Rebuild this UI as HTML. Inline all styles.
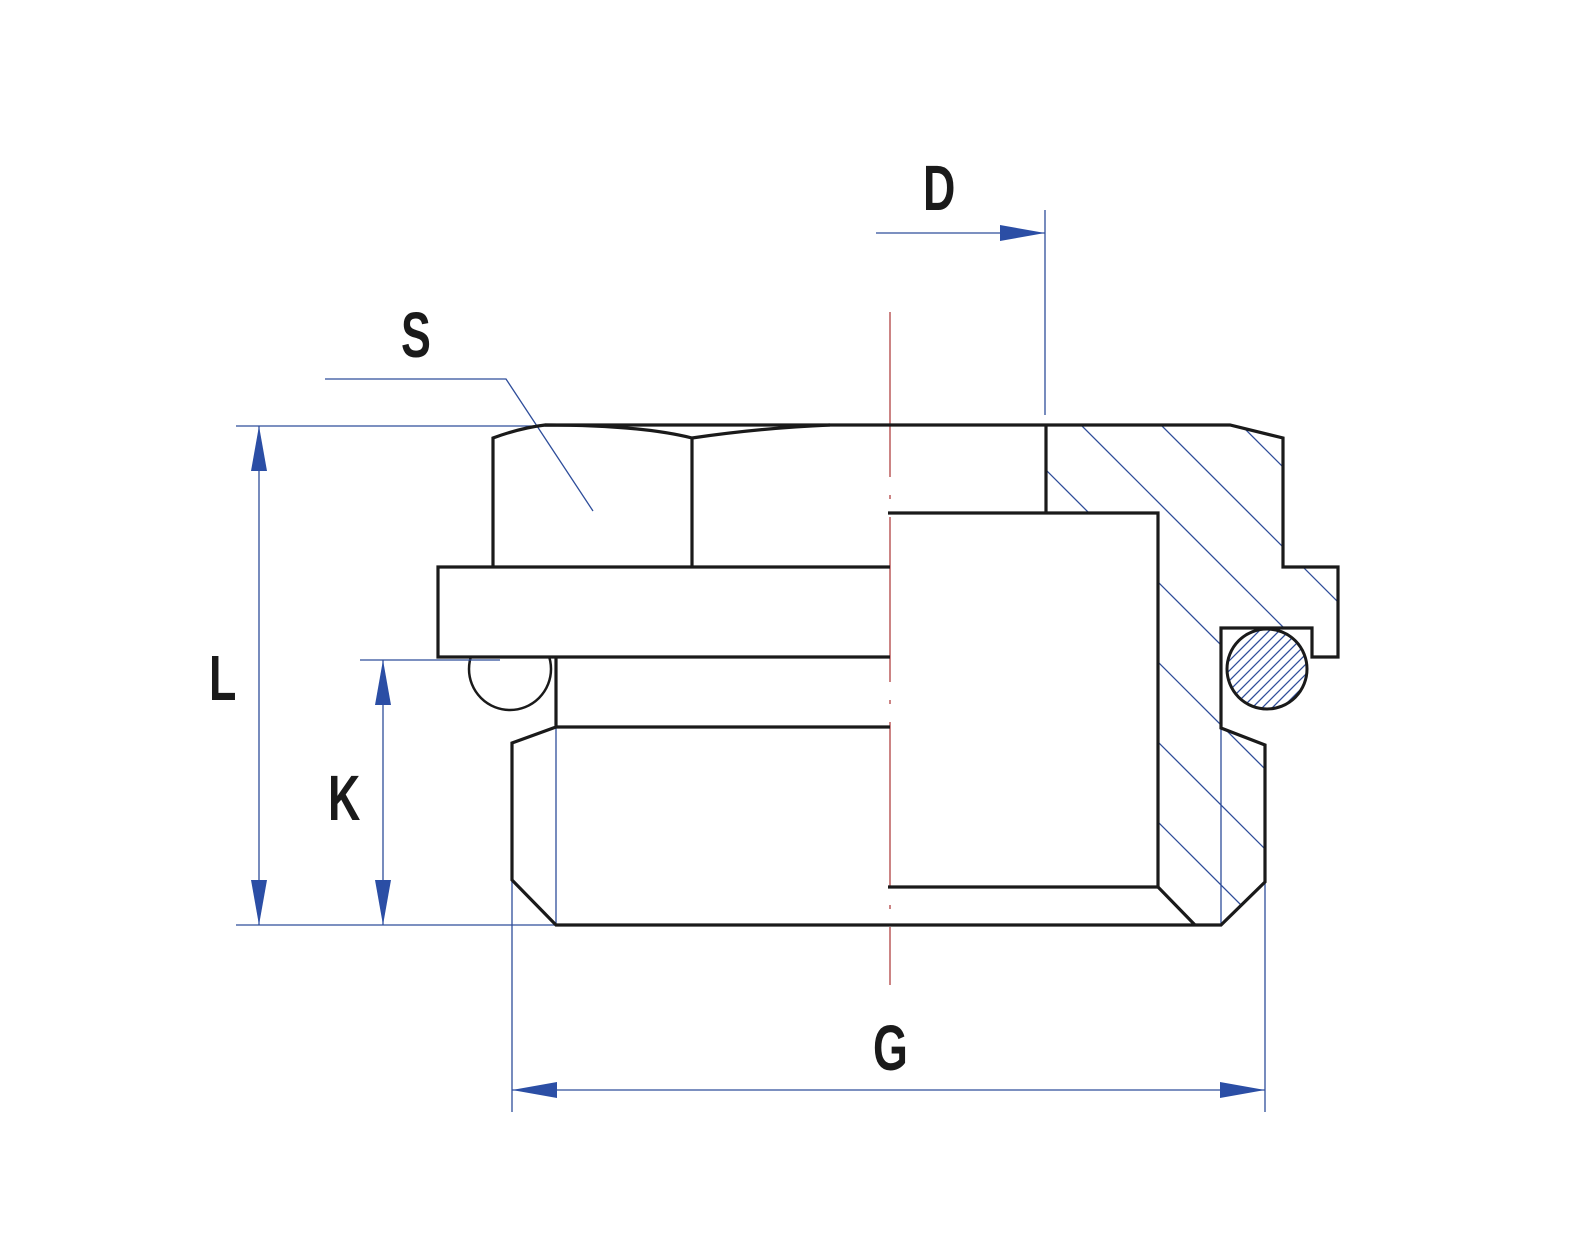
<!DOCTYPE html>
<html><head><meta charset="utf-8"><style>html,body{margin:0;padding:0;background:#fff}svg{display:block}</style></head>
<body>
<svg width="1590" height="1250" viewBox="0 0 1590 1250" xmlns="http://www.w3.org/2000/svg">
<defs>
<clipPath id="sec"><path d="M1046,425 L1230,425 L1283,438 L1283,567 L1338,567 L1338,657 L1312,657 L1312,628 L1221,628 L1221,728 L1265,745 L1265,882 L1221,925 L1195,925 L1158,887 L1158,513 L1046,513 Z"/></clipPath>
<clipPath id="ring"><circle cx="1267" cy="669" r="40"/></clipPath>
</defs>
<g stroke="#2e4d9a" stroke-width="1.3" clip-path="url(#sec)">
<line x1="1000" y1="664" x2="1400" y2="1064"/>
<line x1="1000" y1="584" x2="1400" y2="984"/>
<line x1="1000" y1="504" x2="1400" y2="904"/>
<line x1="1000" y1="424" x2="1400" y2="824"/>
<line x1="1000" y1="344" x2="1400" y2="744"/>
<line x1="1000" y1="264" x2="1400" y2="664"/>
<line x1="1000" y1="184" x2="1400" y2="584"/>
</g>
<g stroke="#2e4d9a" stroke-width="1.3" clip-path="url(#ring)">
<line x1="1200" y1="740" x2="1340" y2="600"/>
<line x1="1200" y1="730" x2="1340" y2="590"/>
<line x1="1200" y1="720" x2="1340" y2="580"/>
<line x1="1200" y1="710" x2="1340" y2="570"/>
<line x1="1200" y1="700" x2="1340" y2="560"/>
<line x1="1200" y1="690" x2="1340" y2="550"/>
<line x1="1200" y1="680" x2="1340" y2="540"/>
<line x1="1200" y1="670" x2="1340" y2="530"/>
<line x1="1200" y1="660" x2="1340" y2="520"/>
<line x1="1200" y1="650" x2="1340" y2="510"/>
<line x1="1200" y1="750" x2="1340" y2="610"/>
<line x1="1200" y1="760" x2="1340" y2="620"/>
<line x1="1200" y1="770" x2="1340" y2="630"/>
<line x1="1200" y1="780" x2="1340" y2="640"/>
<line x1="1200" y1="790" x2="1340" y2="650"/>
</g>
<circle cx="510" cy="669" r="41" fill="none" stroke="#1a1a1a" stroke-width="2.5"/>
<rect x="438" y="567" width="452" height="90" fill="#fff"/>
<!-- centerline -->
<line x1="890" y1="312" x2="890" y2="985" stroke="#a33" stroke-width="1.2" stroke-dasharray="165,18,4,18"/>
<!-- thin blue lines -->
<g stroke="#2e4d9a" stroke-width="1.3" fill="none">
<line x1="236" y1="426" x2="545" y2="426"/>
<line x1="236" y1="925" x2="556" y2="925"/>
<line x1="360" y1="660" x2="500" y2="660"/>
<line x1="259" y1="426" x2="259" y2="925"/>
<line x1="383" y1="660" x2="383" y2="925"/>
<line x1="512" y1="820" x2="512" y2="1112"/>
<line x1="1265" y1="820" x2="1265" y2="1112"/>
<line x1="556" y1="727" x2="556" y2="925"/>
<line x1="1221" y1="728" x2="1221" y2="925"/>
<line x1="512" y1="1090" x2="1265" y2="1090"/>
<line x1="876" y1="233" x2="1045" y2="233"/>
<line x1="1045" y1="210" x2="1045" y2="415"/>
<polyline points="325,379 506,379 593,511"/>
</g>
<g fill="#2b4ea5">
<polygon points="259,426 251,471 267,471"/>
<polygon points="259,925 251,880 267,880"/>
<polygon points="383,660 375,705 391,705"/>
<polygon points="383,925 375,880 391,880"/>
<polygon points="512,1090 557,1082 557,1098"/>
<polygon points="1265,1090 1220,1082 1220,1098"/>
<polygon points="1045,233 1000,225 1000,241"/>
</g>
<!-- part outline -->
<g stroke="#1a1a1a" stroke-width="3.2" fill="none" stroke-linejoin="miter">
<path d="M545,425 L1230,425 L1283,438 L1283,567 L1338,567 L1338,657 L1312,657 L1312,628 L1221,628 L1221,728 L1265,745 L1265,882 L1221,925 L556,925 L512,880 L512,743 L556,727 L556,657"/>
<path d="M493,567 L493,438 Q520,428 545,425 Q640,425 692,438 L692,567"/>
<path d="M692,438 Q760,428 830,425"/>
<path d="M890,567 L438,567 L438,657 L890,657"/>
<line x1="556" y1="727" x2="890" y2="727"/>
<path d="M1046,425 L1046,513"/>
<path d="M888,513 L1158,513 L1158,887 L888,887"/>
<line x1="1158" y1="887" x2="1195" y2="925"/>
</g>
<circle cx="1267" cy="669" r="40" fill="none" stroke="#1a1a1a" stroke-width="3"/>
<g font-family="Liberation Sans, sans-serif" font-weight="bold" font-size="64" fill="#1a1a1a">
<text transform="translate(401,357) scale(0.7,1)">S</text>
<text transform="translate(923,210) scale(0.7,1)">D</text>
<text transform="translate(209,700) scale(0.7,1)">L</text>
<text transform="translate(328,820) scale(0.7,1)">K</text>
<text transform="translate(873,1070) scale(0.7,1)">G</text>
</g>
</svg>
</body></html>
